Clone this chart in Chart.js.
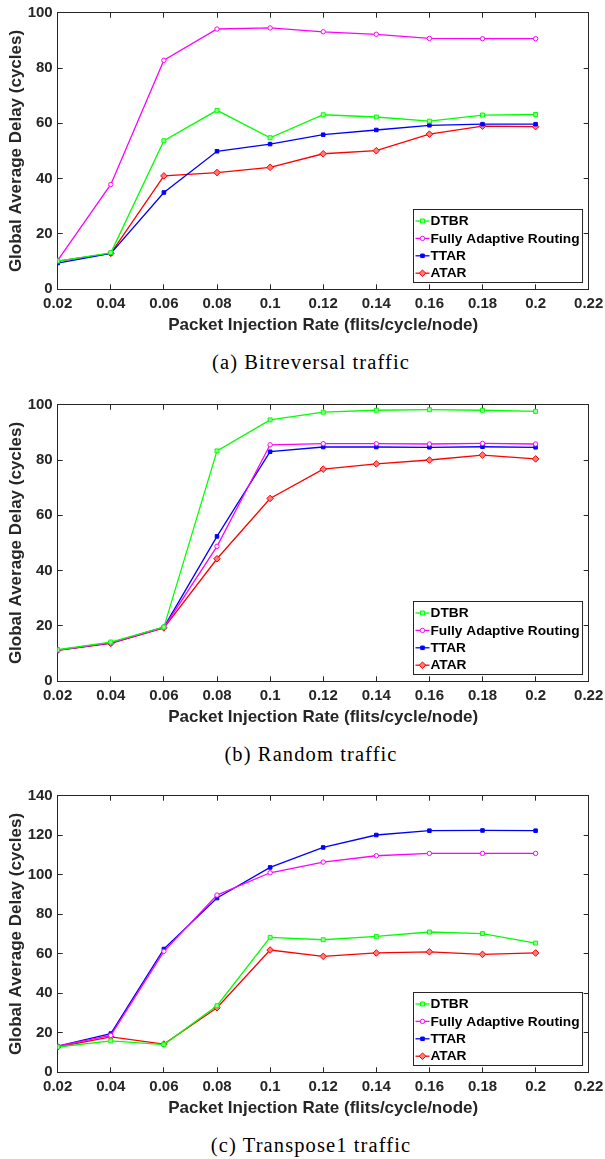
<!DOCTYPE html>
<html>
<head>
<meta charset="utf-8">
<script src="https://cdn.jsdelivr.net/npm/chart.js@4/dist/chart.umd.min.js"></script>
<style>
  html, body { margin: 0; padding: 0; background: #fff; overflow: hidden; }
  body { width: 605px; height: 1159px; position: relative; }
  .panel { position: absolute; left: 0; width: 605px; height: 392px; }
  .panel canvas { position: absolute; left: 0; top: 0; }
  .caption {
    position: absolute; left: 111px; width: 400px; top: 350px;
    text-align: center; font: 20.5px/24px "Liberation Serif", "Times New Roman", serif;
    letter-spacing: 1.1px; color: #000; white-space: nowrap;
  }
</style>
</head>
<body>
<div class="panel" style="top:0px">
  <canvas id="chartA" width="605" height="340"></canvas>
  <div class="caption">(a) Bitreversal traffic</div>
</div>
<div class="panel" style="top:392px">
  <canvas id="chartB" width="605" height="340"></canvas>
  <div class="caption">(b) Random traffic</div>
</div>
<div class="panel" style="top:783px">
  <canvas id="chartC" width="605" height="340"></canvas>
  <div class="caption">(c) Transpose1 traffic</div>
</div>

<script>
// ===================== DATOS =====================

const xValues = [0.02, 0.04, 0.06, 0.08, 0.1, 0.12, 0.14, 0.16, 0.18, 0.2];
const xTickLabels = ['0.02', '0.04', '0.06', '0.08', '0.1', '0.12', '0.14', '0.16', '0.18', '0.2', '0.22'];
const seriesNames = ['DTBR', 'Fully Adaptive Routing', 'TTAR', 'ATAR'];

// (a) Bitreversal
const bitDTBR = [10.2, 13.2, 53.7, 64.7, 54.8, 63.1, 62.3, 60.8, 63.0, 63.2];
const bitFAR  = [10.5, 37.9, 82.8, 94.1, 94.5, 93.1, 92.2, 90.7, 90.6, 90.6];
const bitTTAR = [9.5, 13.0, 35.0, 49.9, 52.5, 55.9, 57.6, 59.3, 59.7, 59.7];
const bitATAR = [10.2, 13.0, 41.0, 42.2, 44.1, 49.0, 50.1, 56.1, 59.0, 58.8];

// (b) Random
const randDTBR = [11.4, 14.2, 19.6, 83.3, 94.5, 97.3, 98.0, 98.2, 98.0, 97.6];
const randFAR  = [11.3, 13.9, 19.4, 48.8, 85.5, 85.9, 85.9, 85.8, 86.0, 85.8];
const randTTAR = [11.3, 13.9, 19.6, 52.4, 83.0, 84.7, 84.7, 84.6, 84.8, 84.6];
const randATAR = [11.2, 13.7, 19.3, 44.3, 66.1, 76.7, 78.6, 80.0, 81.8, 80.4];

// (c) Transpose1
const transDTBR = [12.8, 15.9, 14.0, 33.7, 68.3, 67.1, 68.8, 71.0, 70.2, 65.4];
const transFAR  = [13.2, 18.7, 61.2, 89.7, 101.0, 106.4, 109.6, 110.8, 110.8, 110.8];
const transTTAR = [13.2, 19.6, 62.4, 88.2, 103.7, 113.8, 120.1, 122.3, 122.4, 122.3];
const transATAR = [12.8, 17.9, 14.3, 32.7, 61.9, 58.7, 60.4, 61.0, 59.7, 60.4];

// ===================== ESTILO =====================

const axisColor = '#262626';
const seriesStyles = [
  { color: '#00ff00', pointStyle: 'rect',    radius: 2.8, fill: '#9cff9c' },
  { color: '#ff00ff', pointStyle: 'circle',  radius: 2.2, fill: '#ffffff' },
  { color: '#0000ff', pointStyle: 'rect',    radius: 2.5, fill: '#0000ff' },
  { color: '#ff0000', pointStyle: 'rectRot', radius: 3.3, fill: '#ff7a7a' },
];

const legendBox = {
  id: 'legendBox',
  afterDraw(chart) {
    const { ctx, chartArea } = chart;
    const sets = chart.data.datasets;
    ctx.save();
    ctx.font = 'bold 13.7px "Liberation Sans", Arial, sans-serif';
    const textW = Math.max(...sets.map(d => ctx.measureText(d.label).width));
    const w = 17 + textW + 3, h = 73;
    const x0 = Math.round(chartArea.right - 7 - w) + 0.5;
    const y0 = Math.round(chartArea.bottom - 7 - h) + 0.5;
    ctx.fillStyle = '#fff';
    ctx.fillRect(x0, y0, w, h);
    ctx.strokeStyle = axisColor;
    ctx.lineWidth = 1;
    ctx.strokeRect(x0, y0, w, h);
    sets.forEach((d, i) => {
      const y = y0 + 11.5 + i * 17.4;
      ctx.strokeStyle = d.borderColor;
      ctx.lineWidth = 1.3;
      ctx.beginPath();
      ctx.moveTo(x0 + 2, y);
      ctx.lineTo(x0 + 16, y);
      ctx.stroke();
      ctx.fillStyle = d.pointBackgroundColor;
      ctx.lineWidth = 1;
      Chart.helpers.drawPoint(ctx, { pointStyle: d.pointStyle, radius: d.pointRadius, borderWidth: 1, rotation: 0 }, x0 + 9, y);
      ctx.fillStyle = '#000';
      ctx.textAlign = 'left';
      ctx.textBaseline = 'middle';
      ctx.fillText(d.label, x0 + 17, y + 0.5);
    });
    ctx.restore();
  }
};

function buildDatasets(seriesList) {
  return seriesList.map((values, i) => ({
    label: seriesNames[i],
    data: xValues.map((x, j) => ({ x, y: values[j] })),
    borderColor: seriesStyles[i].color,
    backgroundColor: seriesStyles[i].color,
    pointBackgroundColor: seriesStyles[i].fill,
    pointBorderColor: seriesStyles[i].color,
    pointStyle: seriesStyles[i].pointStyle,
    pointRadius: seriesStyles[i].radius,
    pointBorderWidth: 1,
    borderWidth: 1.3,
    tension: 0,
  }));
}

// sin padding extra por las etiquetas de los extremos
function noEdgePadding(s) {
  s.paddingLeft = 0;
  s.paddingRight = 0;
  s.paddingTop = 0;
  s.paddingBottom = 0;
}

function renderChart(canvasId, seriesList, yMax) {
  const canvas = document.getElementById(canvasId);
  const tickFont = { family: '"Liberation Sans", Arial, sans-serif', size: 15, weight: 'bold' };
  const titleFont = { family: '"Liberation Sans", Arial, sans-serif', size: 17, weight: 'bold' };
  const inwardGrid = { drawOnChartArea: false, drawTicks: true, tickLength: -5, color: axisColor, lineWidth: 1 };
  const border = { display: true, color: axisColor, width: 1 };

  return new Chart(canvas.getContext('2d'), {
    type: 'line',
    data: { datasets: buildDatasets(seriesList) },
    options: {
      responsive: false,
      animation: false,
      layout: { padding: { top: 12.7, right: 16.3, bottom: 0, left: 0 } },
      scales: {
        x: {
          type: 'linear', position: 'bottom', min: 0.02, max: 0.22,
          grid: inwardGrid, border,
          ticks: {
            stepSize: 0.02, autoSkip: false, maxRotation: 0, padding: 11,
            color: axisColor, font: tickFont,
            callback: (v, idx) => xTickLabels[idx] ?? v,
          },
          title: {
            display: true, text: 'Packet Injection Rate (flits/cycle/node)',
            color: axisColor, font: titleFont, padding: { top: 0, bottom: 4 },
          },
          afterFit: s => { noEdgePadding(s); s.height = 340 - 289.3; },
        },
        x2: {
          type: 'linear', axis: 'x', position: 'top', min: 0.02, max: 0.22,
          grid: inwardGrid, border,
          ticks: { stepSize: 0.02, display: false },
          afterFit: s => { noEdgePadding(s); s.height = 0; },
        },
        y: {
          type: 'linear', position: 'left', min: 0, max: yMax,
          grid: inwardGrid, border,
          ticks: { stepSize: 20, autoSkip: false, padding: 10, color: axisColor, font: tickFont },
          title: {
            display: true, text: 'Global Average Delay (cycles)',
            color: axisColor, font: titleFont, padding: { top: 6, bottom: 0 },
          },
          afterFit: s => { noEdgePadding(s); s.width = 57.7; },
        },
        y2: {
          type: 'linear', axis: 'y', position: 'right', min: 0, max: yMax,
          grid: inwardGrid, border,
          ticks: { stepSize: 20, display: false },
          afterFit: s => { noEdgePadding(s); s.width = 0; },
        },
      },
      plugins: {
        legend: { display: false },
        tooltip: { enabled: false },
      },
    },
    plugins: [legendBox],
  });
}

renderChart('chartA', [bitDTBR, bitFAR, bitTTAR, bitATAR], 100);
renderChart('chartB', [randDTBR, randFAR, randTTAR, randATAR], 100);
renderChart('chartC', [transDTBR, transFAR, transTTAR, transATAR], 140);
</script>
</body>
</html>
